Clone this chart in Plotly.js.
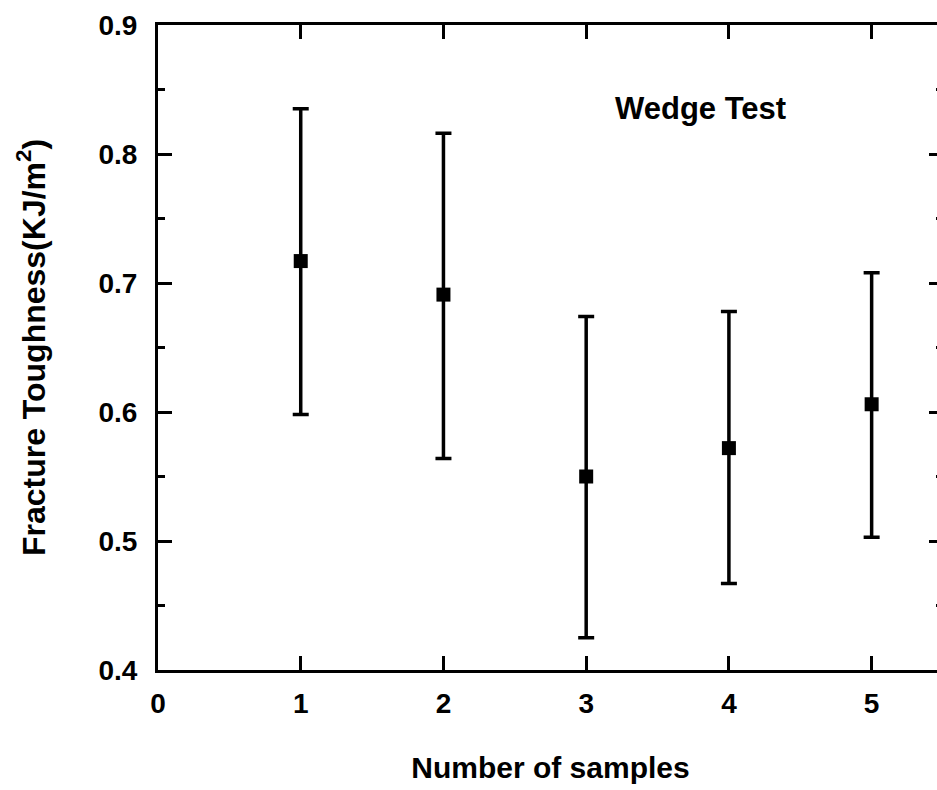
<!DOCTYPE html>
<html>
<head>
<meta charset="utf-8">
<script src="https://cdn.plot.ly/plotly-3.0.1.min.js"></script>
<style>
html, body { margin: 0; padding: 0; overflow: hidden; background: #fff; }
#chart { width: 945px; height: 790px; }
</style>
</head>
<body>
<div id="chart"></div>
<script>
const samples = [1, 2, 3, 4, 5];
const toughness = [0.717, 0.691, 0.550, 0.572, 0.606];
const upper = [0.835, 0.816, 0.674, 0.678, 0.708];
const lower = [0.598, 0.564, 0.425, 0.467, 0.503];
const xTicks = [0, 1, 2, 3, 4, 5];
const yTicks = [0.4, 0.5, 0.6, 0.7, 0.8, 0.9];

const errPlus = upper.map((u, i) => u - toughness[i]);
const errMinus = toughness.map((t, i) => t - lower[i]);

const FONT = 'Arial, "Liberation Sans", sans-serif';

const trace = {
  x: samples,
  y: toughness,
  type: 'scatter',
  mode: 'markers',
  marker: { symbol: 'square', size: 14, color: '#000' },
  error_y: {
    type: 'data', symmetric: false,
    array: errPlus, arrayminus: errMinus,
    color: '#000', thickness: 3.5, width: 8
  },
  showlegend: false,
  hoverinfo: 'skip'
};

const axisCommon = {
  showline: true, linecolor: '#000', linewidth: 3,
  mirror: 'ticks', ticks: 'inside', ticklen: 14, tickwidth: 3, tickcolor: '#000',
  showgrid: false, zeroline: false,
  tickfont: { family: FONT, size: 28, color: '#000', weight: 'bold' }
};

const layout = {
  width: 945, height: 790,
  margin: { l: 158, r: 2, t: 25, b: 120 },
  paper_bgcolor: '#fff', plot_bgcolor: '#fff',
  font: { family: FONT, color: '#000' },
  xaxis: Object.assign({}, axisCommon, {
    range: [0, 5.5],
    tickvals: xTicks, ticktext: xTicks.map(String),
    ticklabelstandoff: 6,
    title: { text: '<b>Number of samples</b>', font: { family: FONT, size: 30, color: '#000' }, standoff: 40 }
  }),
  yaxis: Object.assign({}, axisCommon, {
    range: [0.4, 0.9],
    tickvals: yTicks, ticktext: yTicks.map(v => v.toFixed(1)),
    ticklabelstandoff: 12,
    minor: { ticks: 'inside', ticklen: 7, tickwidth: 3, tickcolor: '#000', dtick: 0.05, showgrid: false },
    title: { text: '<b>Fracture Toughness(KJ/m<sup>2</sup>)</b>', font: { family: FONT, size: 32, color: '#000' }, standoff: 44 }
  }),
  annotations: [{
    x: 3.8, y: 0.835, xref: 'x', yref: 'y',
    text: '<b>Wedge Test</b>', showarrow: false,
    font: { family: FONT, size: 31, color: '#000' }
  }]
};

Plotly.newPlot('chart', [trace], layout, { displayModeBar: false, staticPlot: true });
</script>
</body>
</html>
